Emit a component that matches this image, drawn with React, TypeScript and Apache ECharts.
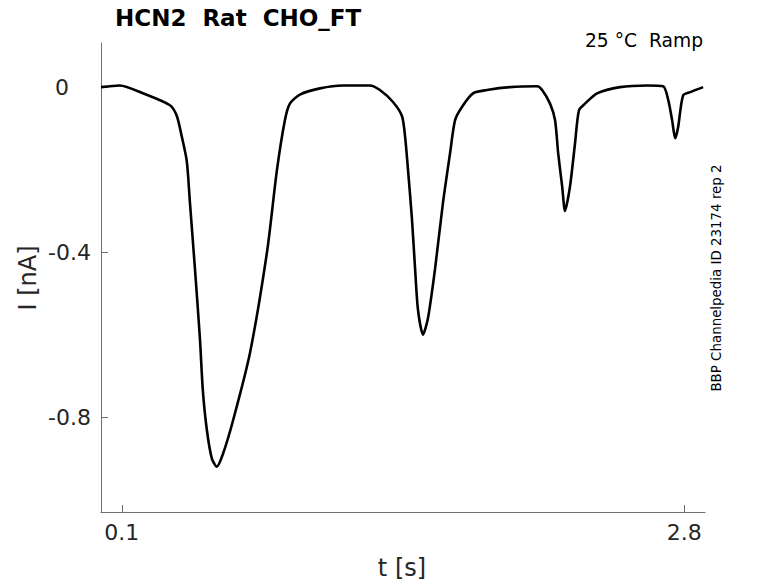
import React, { useEffect, useRef } from "react";
import * as echarts from "echarts";

const timeS: number[] = [
  0.0, 0.09, 0.201, 0.331, 0.364, 0.388, 0.412, 0.427, 0.451, 0.475, 0.489, 0.508, 0.532, 0.556,
  0.585, 0.633, 0.715, 0.797, 0.845, 0.883, 0.907, 0.955, 1.051, 1.162, 1.291, 1.339, 1.402,
  1.445, 1.46, 1.474, 1.493, 1.508, 1.522, 1.546, 1.57, 1.604, 1.642, 1.676, 1.7, 1.733, 1.786,
  1.853, 1.964, 2.094, 2.118, 2.156, 2.18, 2.195, 2.214, 2.228, 2.252, 2.276, 2.295, 2.324,
  2.382, 2.492, 2.622, 2.699, 2.723, 2.742, 2.757, 2.771, 2.795, 2.829, 2.891,
];
const currentNA: number[] = [
  0.0, 0.004, -0.015, -0.044, -0.07, -0.12, -0.18, -0.28, -0.44, -0.61, -0.735, -0.83, -0.9,
  -0.92, -0.89, -0.81, -0.645, -0.4, -0.2, -0.08, -0.04, -0.018, -0.003, 0.004, 0.004, -0.007,
  -0.036, -0.07, -0.12, -0.2, -0.32, -0.44, -0.54, -0.6, -0.56, -0.44, -0.28, -0.16, -0.08,
  -0.048, -0.015, -0.007, 0.0, 0.002, -0.007, -0.04, -0.08, -0.16, -0.24, -0.3, -0.24, -0.136,
  -0.056, -0.04, -0.015, 0.0, 0.004, 0.002, -0.03, -0.08, -0.124, -0.097, -0.02, -0.012, 0.0,
];
const xTicks: number[] = [0.1, 2.8];
const yTicks: number[] = [-0.8, -0.4, 0];

const titleText = "HCN2  Rat  CHO_FT";
const conditionText = "25 °C  Ramp";
const sourceText = "BBP Channelpedia ID 23174 rep 2";
const xName = "t [s]";
const yName = "I [nA]";

export default function App() {
  const ref = useRef<HTMLDivElement>(null);
  useEffect(() => {
    if (!ref.current) return;
    const chart = echarts.init(ref.current, undefined, { renderer: "svg" });
    const font = "DejaVu Sans";
    const labelColor = "#262626";
    const axisColor = "#6e6e6e";
    chart.setOption({
      animation: false,
      backgroundColor: "#ffffff",
      grid: { left: 101, right: 73, top: 43, bottom: 71, containLabel: false },
      xAxis: {
        type: "value",
        min: 0,
        max: 2.9,
        axisLine: { show: true, onZero: false, lineStyle: { color: axisColor, width: 1 } },
        axisTick: { show: true, inside: true, length: 7, customValues: xTicks, lineStyle: { color: axisColor } },
        axisLabel: {
          show: true,
          customValues: xTicks,
          margin: 9,
          fontSize: 22,
          fontFamily: font,
          color: labelColor,
          formatter: (v: number) => v.toFixed(1),
        },
        splitLine: { show: false },
      },
      yAxis: {
        type: "value",
        min: -1.03,
        max: 0.107,
        axisLine: { show: true, onZero: false, lineStyle: { color: axisColor, width: 1 } },
        axisTick: { show: true, inside: true, length: 7, customValues: yTicks, lineStyle: { color: axisColor } },
        axisLabel: {
          show: true,
          customValues: yTicks,
          margin: 10,
          fontSize: 22,
          fontFamily: font,
          color: labelColor,
          formatter: (v: number) => (Math.abs(v) < 1e-9 ? "{z|0}" : v.toFixed(1)),
          rich: {
            z: { fontSize: 22, fontFamily: font, color: labelColor, padding: [0, 22, 0, 0] },
          },
        },
        splitLine: { show: false },
      },
      series: [
        {
          type: "line",
          data: timeS.map((t, i) => [t, currentNA[i]]),
          showSymbol: false,
          smooth: 0.25,
          lineStyle: { color: "#000000", width: 2.6 },
        },
      ],
      graphic: [
        {
          type: "text",
          left: 115,
          top: 6,
          style: { text: titleText, fontSize: 23, fontWeight: "bold", fontFamily: font, fill: "#000000" },
        },
        {
          type: "text",
          x: 703,
          y: 40,
          style: {
            text: conditionText,
            fontSize: 18.7,
            fontFamily: font,
            fill: "#000000",
            align: "right",
            verticalAlign: "middle",
          },
        },
        {
          type: "text",
          x: 716,
          y: 278,
          rotation: Math.PI / 2,
          style: {
            text: sourceText,
            fontSize: 13.4,
            fontFamily: font,
            fill: "#000000",
            align: "center",
            verticalAlign: "middle",
          },
        },
        {
          type: "text",
          x: 28,
          y: 278,
          rotation: Math.PI / 2,
          style: {
            text: yName,
            fontSize: 24,
            fontFamily: font,
            fill: labelColor,
            align: "center",
            verticalAlign: "middle",
          },
        },
        {
          type: "text",
          x: 402,
          y: 568,
          style: {
            text: xName,
            fontSize: 24,
            fontFamily: font,
            fill: labelColor,
            align: "center",
            verticalAlign: "middle",
          },
        },
      ],
    });
    return () => chart.dispose();
  }, []);
  return <div ref={ref} style={{ width: 778, height: 583, position: "absolute", left: 0, top: 0 }} />;
}
